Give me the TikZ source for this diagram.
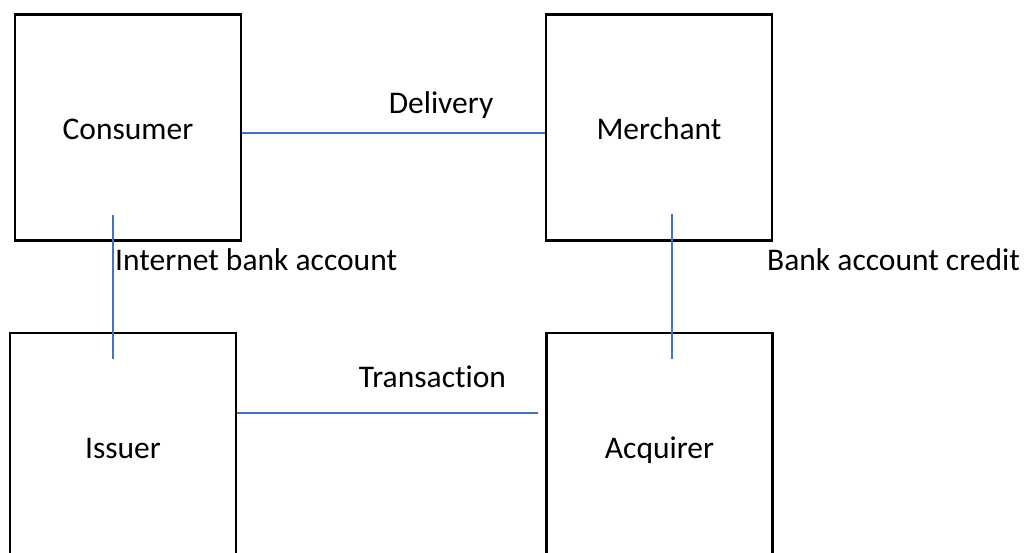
\documentclass[tikz,border=0pt]{standalone}
\usepackage{fontspec}
\setmainfont{Carlito}[Ligatures={NoCommon,NoRare}, Contextuals=NoAlternate]
\usetikzlibrary{positioning}
\definecolor{linkblue}{RGB}{68,114,196}

\begin{document}
\begin{tikzpicture}[x=1pt, y=-1pt,
    party box/.style={draw, line width=2.5pt, minimum width=226pt, minimum height=226pt,
                      text height=24pt, text depth=0pt, font=\fontsize{31.5}{38}\selectfont},
    link/.style={draw=linkblue, line width=1.2pt},
    link label/.style={font=\fontsize{31.5}{38}\selectfont, inner sep=0pt}]

    % Canvas
    \clip (0,0) rectangle (1029,553);

    % Parties
    \node[party box] (consumer) at (128,127.5) {Consumer};
    \node[party box] (merchant) at (659,127.5) {Merchant};
    \node[party box] (issuer) at (123,446) {Issuer};
    \node[party box] (acquirer) at (659.5,446) {Acquirer};

    % Links
    \draw[link] ([yshift=-5.5pt]consumer.east) -- ([yshift=-5.5pt]merchant.west);
    \draw[link] ([yshift=33pt]issuer.east) -- ([xshift=-7pt, yshift=33pt]acquirer.west);
    \draw[link] ([xshift=-15pt, yshift=26.75pt]consumer.south) -- ++(0,144);
    \draw[link] ([xshift=13pt, yshift=27.75pt]merchant.south) -- ++(0,145);

    % Link labels
    \node[link label, anchor=base] (delivery) at (441,114) {Delivery};
    \node[link label, anchor=base] (transaction) at (432.5,388) {Transaction};
    \node[link label, anchor=base west] (bankacc) at (115,271) {Internet bank account};
    \node[link label, anchor=base west] (credit) at (767,271) {Bank account credit};
\end{tikzpicture}
\end{document}
